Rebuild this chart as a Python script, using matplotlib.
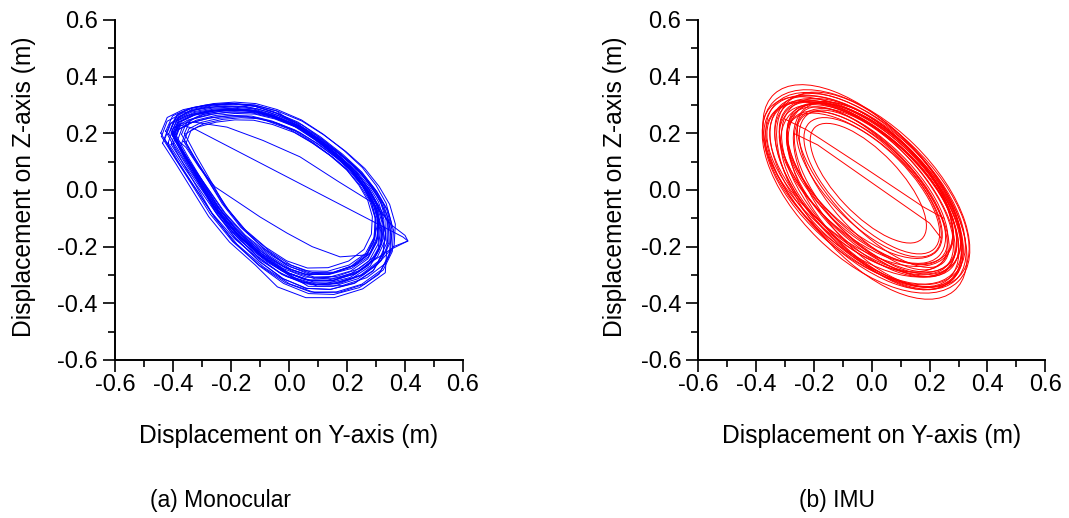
import matplotlib
matplotlib.use("Agg")
import matplotlib.pyplot as plt
from matplotlib.patches import Ellipse
from matplotlib.transforms import Affine2D
from matplotlib.ticker import MultipleLocator, FormatStrFormatter

plt.rcParams["font.family"] = ["Liberation Sans", "DejaVu Sans"]
plt.rcParams["axes.unicode_minus"] = False

# ---------------- (a) monocular ----------------
# mean motion cycle, (Y, Z) displacement in metres
mono_cycle_y = [-0.40, -0.38, -0.33, -0.26, -0.19, -0.12, -0.05, 0.03, 0.10, 0.17, 0.23, 0.275, 0.308,
                0.325, 0.32, 0.29, 0.23, 0.15, 0.07, -0.01, -0.09, -0.175, -0.245, -0.30, -0.355, -0.40]
mono_cycle_z = [0.19, 0.24, 0.265, 0.28, 0.285, 0.28, 0.26, 0.225, 0.178, 0.122, 0.065, 0.005, -0.055,
                -0.12, -0.19, -0.25, -0.295, -0.32, -0.32, -0.29, -0.235, -0.158, -0.07, 0.02, 0.11, 0.19]
mono_centre = (-0.03, -0.02)
# how each repetition differs from the mean cycle: size, turn (deg), shift (m)
mono_cycle_scale = [1.00, 1.06, 0.94, 1.03, 0.97, 1.09, 0.91, 1.02, 0.98, 1.05, 0.95, 1.08,
                    0.93, 1.01, 0.99, 1.04, 0.96, 1.07, 0.92, 1.00, 1.03, 0.97, 1.10, 0.89]
mono_cycle_turn = [0, 2, -2, 3, -1, -2, 1, -3, 2, 0, 3, 1,
                   -1, -2, 2, -3, 0, 1, 3, -1, -2, 2, 0, 1]
mono_cycle_shift_y = [0.0, -0.01, 0.01, 0.005, -0.005, 0.0, 0.015, -0.01, 0.0, 0.01, -0.015, 0.005,
                      0.0, -0.005, 0.01, 0.0, -0.01, 0.015, 0.005, -0.01, 0.0, 0.01, -0.005, 0.0]
mono_cycle_shift_z = [0.0, 0.0, 0.01, -0.01, 0.005, -0.015, 0.0, 0.005, -0.01, 0.01, 0.0, -0.02,
                      0.015, -0.005, 0.0, -0.01, 0.01, 0.0, -0.005, 0.005, -0.015, 0.0, -0.01, 0.01]
# irregular repetitions drawn point by point
mono_cut_a = [(-0.40, 0.19), (-0.38, 0.23), (-0.33, 0.218), (0.393, -0.166), (0.41, -0.18), (0.35, -0.21),
              (0.29, -0.25), (0.23, -0.295), (0.15, -0.32), (0.07, -0.32), (-0.01, -0.29), (-0.09, -0.235),
              (-0.175, -0.158), (-0.245, -0.07), (-0.30, 0.02), (-0.355, 0.11), (-0.40, 0.19)]
mono_cut_b = [(-0.40, 0.20), (-0.37, 0.235), (-0.33, 0.24), (-0.214, 0.222), (-0.09, 0.175), (0.038, 0.117),
              (0.17, 0.03), (0.29, -0.046), (0.355, -0.125), (0.40, -0.16), (0.41, -0.18), (0.36, -0.20),
              (0.304, -0.264), (0.238, -0.313), (0.152, -0.34), (0.066, -0.34), (-0.01, -0.29),
              (-0.09, -0.235), (-0.175, -0.158), (-0.245, -0.07), (-0.30, 0.02), (-0.355, 0.11), (-0.40, 0.20)]
mono_cut_c = [(-0.40, 0.19), (-0.38, 0.24), (-0.33, 0.265), (-0.26, 0.28), (-0.19, 0.285), (-0.12, 0.28),
              (-0.05, 0.26), (0.03, 0.225), (0.10, 0.178), (0.17, 0.122), (0.23, 0.065), (0.275, 0.005),
              (0.308, -0.055), (0.305, -0.122), (0.29, -0.19), (0.268, -0.229), (0.176, -0.236), (0.08, -0.20),
              (-0.007, -0.152), (-0.10, -0.095), (-0.18, -0.04), (-0.255, 0.011), (-0.31, 0.08), (-0.355, 0.15),
              (-0.40, 0.19)]
mono_wide = [(-0.436, 0.165), (-0.41, 0.235), (-0.336, 0.284), (-0.262, 0.30), (-0.19, 0.305), (-0.118, 0.30),
             (-0.043, 0.279), (0.03, 0.225), (0.10, 0.178), (0.17, 0.122), (0.23, 0.065), (0.275, 0.005),
             (0.308, -0.055), (0.345, -0.118), (0.338, -0.198), (0.332, -0.292), (0.254, -0.349),
             (0.156, -0.38), (0.058, -0.38), (-0.04, -0.342), (-0.116, -0.265), (-0.205, -0.184),
             (-0.277, -0.094), (-0.334, 0.0), (-0.391, 0.094), (-0.436, 0.165)]

# ---------------- (b) IMU ----------------
# each cycle is close to an ellipse: centre (Y, Z) in metres,
# full length and width in metres, tilt of the long axis in degrees
imu_centre_y = [-0.012, -0.020, -0.010, -0.030, 0.000, -0.015, -0.020, -0.012, 0.010, -0.040,
                -0.005, -0.025, 0.005, -0.020, -0.010, 0.000, -0.030, 0.010, -0.015, -0.020,
                0.015, -0.035, -0.010, 0.000, -0.025, -0.005, -0.018, 0.005, 0.000, -0.030]
imu_centre_z = [0.011, 0.000, 0.020, 0.010, -0.010, 0.015, -0.005, 0.024, -0.020, 0.020,
                0.005, 0.000, 0.000, 0.020, -0.010, 0.015, 0.005, -0.010, 0.000, 0.010,
                -0.015, 0.015, 0.005, 0.000, 0.015, -0.005, 0.008, 0.010, -0.020, 0.010]
imu_length = [0.78, 0.84, 0.66, 0.80, 0.82, 0.72, 0.90, 0.54, 0.80, 0.78,
              0.76, 0.86, 0.70, 0.74, 0.84, 0.62, 0.82, 0.74, 0.88, 0.70,
              0.78, 0.84, 0.80, 0.76, 0.68, 0.86, 0.74, 0.72, 0.88, 0.90]
imu_width = [0.36, 0.42, 0.28, 0.38, 0.40, 0.32, 0.47, 0.22, 0.40, 0.38,
             0.34, 0.44, 0.30, 0.36, 0.40, 0.26, 0.42, 0.34, 0.44, 0.32,
             0.38, 0.40, 0.36, 0.38, 0.30, 0.42, 0.40, 0.28, 0.44, 0.44]
imu_tilt = [-44, -45, -46, -42, -48, -45, -45, -47, -50, -40,
            -47, -43, -49, -42, -46, -46, -41, -48, -44, -44,
            -51, -41, -45, -47, -43, -47, -45, -48, -50, -47]
# short cuts across the inside of the IMU cycles
imu_cut_a = [(-0.27, 0.20), (-0.187, 0.159), (0.20, -0.117), (0.24, -0.17)]
imu_cut_b = [(-0.30, 0.25), (-0.225, 0.212), (-0.03, 0.082), (0.177, -0.059), (0.25, -0.10)]

axis_ticks = [-0.6, -0.4, -0.2, 0.0, 0.2, 0.4, 0.6]
x_title = "Displacement on Y-axis (m)"
y_title = "Displacement on Z-axis (m)"
captions = ["(a) Monocular", "(b) IMU"]
colours = ["#0000ff", "#ff0000"]
LW = 0.7

W, H = 1069, 518
fig = plt.figure(figsize=(W / 100, H / 100), dpi=100)

# panel frames in pixels: left, right, top, bottom, y-title baseline x, caption centre x
frames = [
    (115.0, 463.0, 20.0, 360.0, 31.5, 221.0),
    (698.3, 1045.3, 20.0, 360.0, 621.7, 837.0),
]

axes = []
for caption, (l, r, t, b, ylab_x, cap_x) in zip(captions, frames):
    ax = fig.add_axes([l / W, 1 - b / H, (r - l) / W, (b - t) / H])
    axes.append(ax)
    ax.set_xlim(axis_ticks[0], axis_ticks[-1])
    ax.set_ylim(axis_ticks[0], axis_ticks[-1])
    ax.set_xticks(axis_ticks)
    ax.set_yticks(axis_ticks)
    ax.xaxis.set_minor_locator(MultipleLocator(0.1))
    ax.yaxis.set_minor_locator(MultipleLocator(0.1))
    ax.xaxis.set_major_formatter(FormatStrFormatter("%.1f"))
    ax.yaxis.set_major_formatter(FormatStrFormatter("%.1f"))
    for side in ("top", "right"):
        ax.spines[side].set_visible(False)
    for side in ("left", "bottom"):
        ax.spines[side].set_linewidth(1.4)
    ax.tick_params(which="major", direction="out", length=8.3, width=1.2,
                   labelsize=17, colors="black")
    ax.tick_params(which="minor", direction="out", length=4.8, width=1.2)
    ax.tick_params(axis="x", which="major", pad=1.5)
    ax.tick_params(axis="y", which="major", pad=4)

    ax.set_xlabel(x_title, fontsize=17.7, va="baseline")
    ax.xaxis.set_label_coords(0.5, -(443 - b) / (b - t))
    ax.set_ylabel(y_title, fontsize=17.7, va="baseline", ha="center",
                  rotation_mode="anchor")
    ax.yaxis.set_label_coords(-(l - ylab_x) / (r - l), 0.51)

    fig.text(cap_x / W, 1 - 507 / H, caption, ha="center", va="baseline",
             fontsize=16.5)

# (a) monocular cycles
ax_m = axes[0]
cy0, cz0 = mono_centre
for s, turn, dy, dz in zip(mono_cycle_scale, mono_cycle_turn,
                           mono_cycle_shift_y, mono_cycle_shift_z):
    place = (Affine2D().translate(-cy0, -cz0).scale(s).rotate_deg(turn)
             .translate(cy0 + dy, cz0 + dz))
    ax_m.plot(mono_cycle_y, mono_cycle_z, color=colours[0], lw=LW,
              solid_joinstyle="round", transform=place + ax_m.transData)
for path in (mono_cut_a, mono_cut_b, mono_cut_c, mono_wide):
    ax_m.plot([p[0] for p in path], [p[1] for p in path], color=colours[0],
              lw=LW, solid_joinstyle="round")

# (b) IMU cycles
ax_i = axes[1]
for cy, cz, ln, wd, tl in zip(imu_centre_y, imu_centre_z, imu_length, imu_width, imu_tilt):
    ax_i.add_patch(Ellipse((cy, cz), ln, wd, angle=tl, fill=False,
                           edgecolor=colours[1], lw=LW))
for cut in (imu_cut_a, imu_cut_b):
    ax_i.plot([p[0] for p in cut], [p[1] for p in cut], color=colours[1], lw=LW)

fig.savefig("out.png", dpi=100, facecolor="white")
